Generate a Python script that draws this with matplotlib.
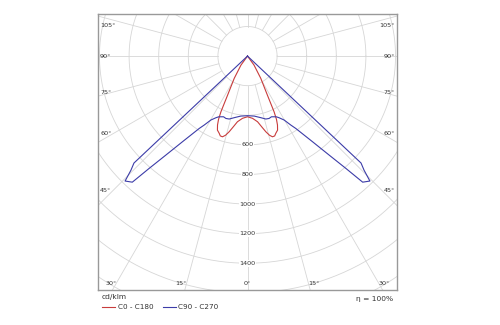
import numpy as np
import matplotlib
import matplotlib.pyplot as plt

matplotlib.use('Agg')

# luminous intensity, cd/klm, against angle from nadir (symmetric halves)
gamma_c0 = np.array([0, 4.6, 8.7, 11.5, 13.6, 15.5, 17.2, 18.8, 20.1, 22.1, 23.5,
                     24.6, 25.5, 27, 30.8, 36, 40])
cd_c0 = np.array([410, 422, 449, 490, 526, 555, 571, 570, 556, 540, 508,
                  470, 417, 296, 175, 75, 0])

gamma_c90 = np.array([0, 6.4, 12.2, 16.2, 19.1, 21.5, 23.7, 25.5, 27.1, 29.8, 32.1, 33.7,
                      37.2, 39.5, 41.2, 42.4, 44.4, 45.6, 46.7, 50])
cd_c90 = np.array([403, 408, 426, 443, 446, 441, 448, 455, 468, 498, 550, 588,
                   727, 867, 1009, 1154, 1182, 1102, 1054, 0])

ring_values = [200, 400, 600, 800, 1000, 1200, 1400, 1600, 1800]
ring_labels = [600, 800, 1000, 1200, 1400]
side_angles = [45, 60, 75, 90, 105]
bottom_angles = [0, 15, 30]

grid_col = '#d6d6d6'
txt_col = '#333333'
red = '#c83c3c'
blue = '#3c3ca8'


def to_xy(g, v):
    # mirror the half curve and convert to plane coordinates (nadir = down)
    g = np.radians(np.concatenate([-g[::-1], g[1:]]))
    v = np.concatenate([v[::-1], v[1:]])
    return v * np.sin(g), -v * np.cos(g)


fig = plt.figure(figsize=(5, 3.25), dpi=100)
ax = fig.add_axes([0.196, 0.1077, 0.598, 0.849])
xmax, ybot, ytop = 1010, -1581, 284
ax.set_xlim(-xmax, xmax)
ax.set_ylim(ybot, ytop)
ax.set_xticks([])
ax.set_yticks([])
for s in ax.spines.values():
    s.set_color('#999999')
    s.set_linewidth(1.0)

# polar grid
t = np.linspace(0, 2 * np.pi, 721)
for r in ring_values:
    ax.plot(r * np.cos(t), r * np.sin(t), color=grid_col, lw=0.6, zorder=1)
for a in range(0, 360, 15):
    ar = np.radians(a)
    ax.plot([200 * np.sin(ar), 2500 * np.sin(ar)],
            [-200 * np.cos(ar), -2500 * np.cos(ar)],
            color=grid_col, lw=0.6, zorder=1)

for r in ring_labels:
    ax.text(0, -r, str(r), ha='center', va='center', fontsize=4.6, color=txt_col,
            zorder=3, bbox=dict(fc='white', ec='none', pad=0.6))

# angle labels on the frame
d = xmax - 100
for a in side_angles:
    y = -d / np.tan(np.radians(a)) if a != 90 else 0
    y = min(y, ytop - 75)
    ax.text(-xmax + 14, y, f'{a}°', ha='left', va='center', fontsize=4.6, color=txt_col)
    ax.text(xmax - 14, y, f'{a}°', ha='right', va='center', fontsize=4.6, color=txt_col)
yb = -1534
for a in bottom_angles:
    x = -yb * np.tan(np.radians(a))
    if a == 0:
        ax.text(0, yb, '0°', ha='center', va='center', fontsize=4.6, color=txt_col)
    else:
        ax.text(-x, yb, f'{a}°', ha='right', va='center', fontsize=4.6, color=txt_col)
        ax.text(x, yb, f'{a}°', ha='left', va='center', fontsize=4.6, color=txt_col)

# curves
x0, y0 = to_xy(gamma_c0, cd_c0)
x9, y9 = to_xy(gamma_c90, cd_c90)
l1, = ax.plot(x0, y0, color=red, lw=0.8, zorder=4)
l2, = ax.plot(x9, y9, color=blue, lw=0.8, zorder=4)

fig.text(102 / 500, 1 - 297 / 325, 'cd/klm', fontsize=5.4, color=txt_col, va='center')
fig.text(393 / 500, 1 - 299 / 325, 'η = 100%', fontsize=5.4, color=txt_col,
         ha='right', va='center')
fig.legend([l1, l2], ['C0 - C180', 'C90 - C270'], loc='center left',
           bbox_to_anchor=(102 / 500, 1 - 307 / 325), ncol=2, frameon=False,
           fontsize=5.2, handlelength=1.8, handletextpad=0.35, columnspacing=1.3,
           borderpad=0, borderaxespad=0, labelcolor=txt_col)

plt.savefig('out.png', dpi=100)
plt.close()
